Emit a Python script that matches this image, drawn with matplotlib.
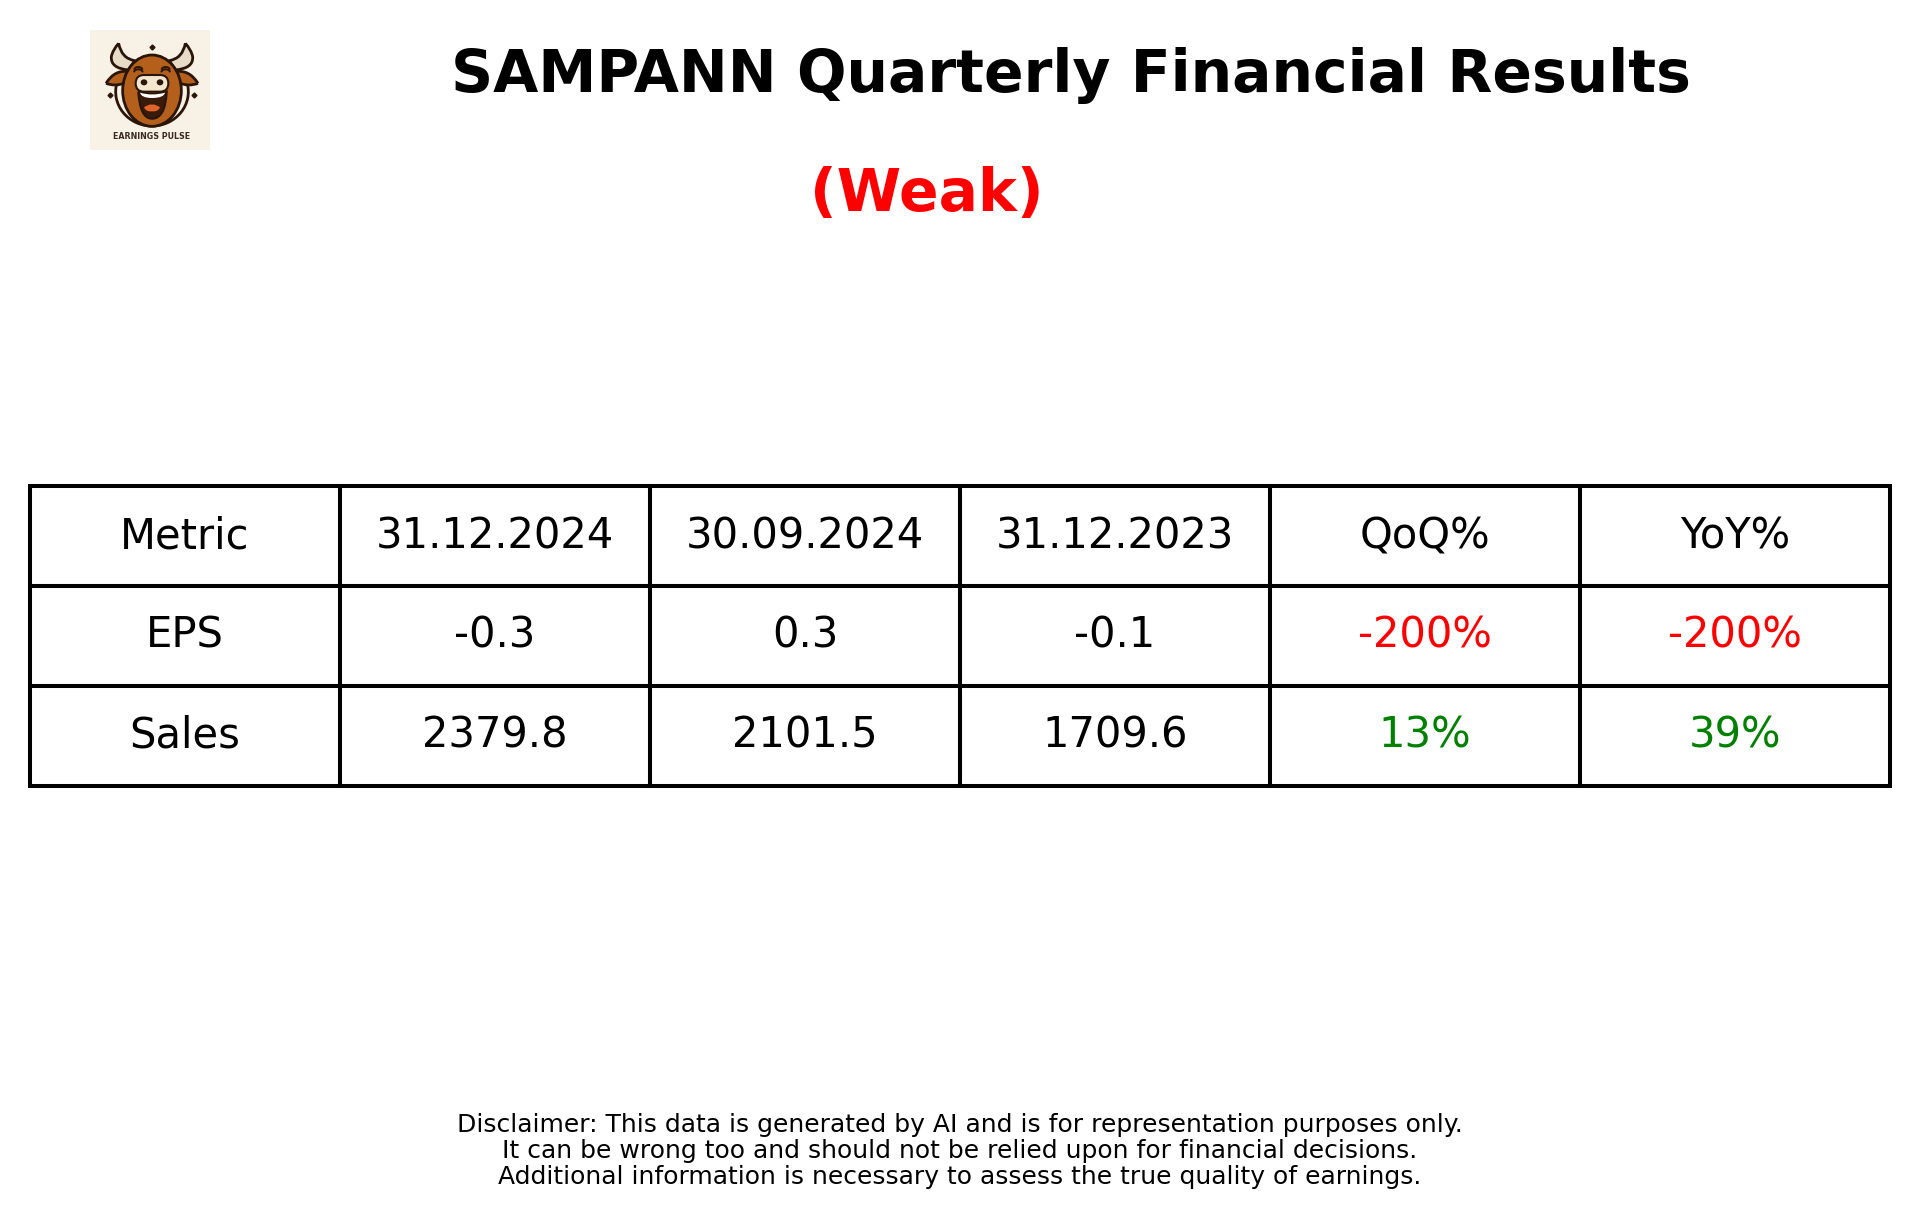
import matplotlib
matplotlib.use("Agg")
import matplotlib.pyplot as plt
from matplotlib.patches import Ellipse, PathPatch, Polygon, FancyBboxPatch, Arc
from matplotlib.path import Path

# Table contents
col_labels = ["Metric", "31.12.2024", "30.09.2024", "31.12.2023", "QoQ%", "YoY%"]
metrics = ["EPS", "Sales"]
latest = ["-0.3", "2379.8"]
prev_quarter = ["0.3", "2101.5"]
prev_year = ["-0.1", "1709.6"]
qoq = ["-200%", "13%"]
yoy = ["-200%", "39%"]

title = "SAMPANN Quarterly Financial Results"
verdict = "(Weak)"
disclaimer = ("Disclaimer: This data is generated by AI and is for representation purposes only.\n"
              "It can be wrong too and should not be relied upon for financial decisions.\n"
              "Additional information is necessary to assess the true quality of earnings.")

W, H = 1919, 1220
DARK = "#2a1608"
BROWN = "#b4601c"
CREAM = "#f3e6cf"


def curve(ax, verts, face, edge=DARK, lw=1.6):
    """Closed quadratic-curve shape, first point then control/end pairs."""
    codes = [Path.MOVETO] + [Path.CURVE3] * (len(verts) - 1)
    ax.add_patch(PathPatch(Path(verts, codes), fc=face, ec=edge, lw=lw))


def draw_logo(fig):
    """Rough redraw of the bull logo, coordinates are in a 360 box."""
    ax = fig.add_axes([90 / W, 1 - 150 / H, 120 / W, 120 / H])
    ax.set_xlim(0, 360)
    ax.set_ylim(360, 0)
    ax.axis("off")
    ax.add_patch(Polygon([(0, 0), (360, 0), (360, 360), (0, 360)], fc="#f8f1e6", ec="none"))

    # ring behind the head
    ax.add_patch(Arc((186, 185), 218, 206, theta1=-15, theta2=195, color=DARK, lw=2))

    for side in (1, -1):
        def x(v):
            return 186 + side * v
        # horns
        curve(ax, [(x(100), 40), (x(92), 85), (x(52), 92), (x(60), 105), (x(70), 120),
                   (x(125), 115), (x(122), 80), (x(118), 60), (x(100), 40)], "#e8dcc8", lw=2)
        # ears
        curve(ax, [(x(138), 160), (x(112), 118), (x(70), 125), (x(65), 150),
                   (x(85), 160), (x(110), 170), (x(138), 160)], BROWN, lw=2)

    ax.add_patch(Ellipse((186, 182), 176, 214, fc=BROWN, ec=DARK, lw=2))

    for side in (1, -1):
        # eye arcs
        ax.add_patch(Arc((186 + side * 41, 119), 24, 16, theta1=180, theta2=360, color=DARK, lw=1.4))
        ax.add_patch(Arc((186 + side * 41, 127), 26, 18, theta1=180, theta2=360, color=DARK, lw=1.4))

    # muzzle and nostrils
    ax.add_patch(FancyBboxPatch((137, 135), 98, 50, boxstyle="round,pad=0,rounding_size=25",
                                fc=CREAM, ec=DARK, lw=1.5))
    for nx in (162, 210):
        ax.add_patch(Ellipse((nx, 157), 20, 18, fc=DARK, ec="none"))

    # mouth
    curve(ax, [(145, 185), (186, 197), (230, 185), (226, 266), (186, 266),
               (150, 266), (145, 185)], "#3a1a0a")
    curve(ax, [(150, 188), (186, 199), (225, 188), (222, 204), (186, 204),
               (154, 204), (150, 188)], "white", edge="none", lw=0)
    curve(ax, [(162, 232), (186, 214), (210, 232), (204, 246), (186, 244),
               (168, 246), (162, 232)], "#e2622c", edge="none", lw=0)

    for sx, sy in [(186, 50), (60, 195), (311, 195)]:
        ax.plot([sx], [sy], marker="D", ms=2.5, color=DARK)

    ax.text(186, 319, "EARNINGS PULSE", ha="center", va="center", fontsize=5.7,
            fontweight="bold", color="#3a2a20")


def draw_table(fig):
    """Six column results table with coloured change cells."""
    ax = fig.add_axes([30 / W, 1 - 786 / H, 1860 / W, 300 / H])
    ax.axis("off")
    rows = [list(r) for r in zip(metrics, latest, prev_quarter, prev_year, qoq, yoy)]
    table = ax.table(cellText=[col_labels] + rows, cellLoc="center", bbox=[0, 0, 1, 1])
    table.auto_set_font_size(False)
    for (r, c), cell in table.get_celld().items():
        cell.set_linewidth(2.9)
        cell.set_edgecolor("black")
        cell.get_text().set_fontsize(30)
        if r > 0 and c >= 4:
            value = cell.get_text().get_text()
            cell.get_text().set_color("red" if value.startswith("-") else "green")


def main():
    fig = plt.figure(figsize=(W / 100, H / 100), dpi=100, facecolor="white")
    fig.text(1071 / W, 1 - 75 / H, title, ha="center", va="center",
             fontsize=42, fontweight="bold", color="black")
    fig.text(927 / W, 1 - 194 / H, verdict, ha="center", va="center",
             fontsize=42, fontweight="bold", color="red")
    fig.text(960 / W, 1 - 1151 / H, disclaimer, ha="center", va="center",
             fontsize=18, color="black", linespacing=1.13)
    draw_logo(fig)
    draw_table(fig)
    fig.savefig("out.png", dpi=100)


main()
